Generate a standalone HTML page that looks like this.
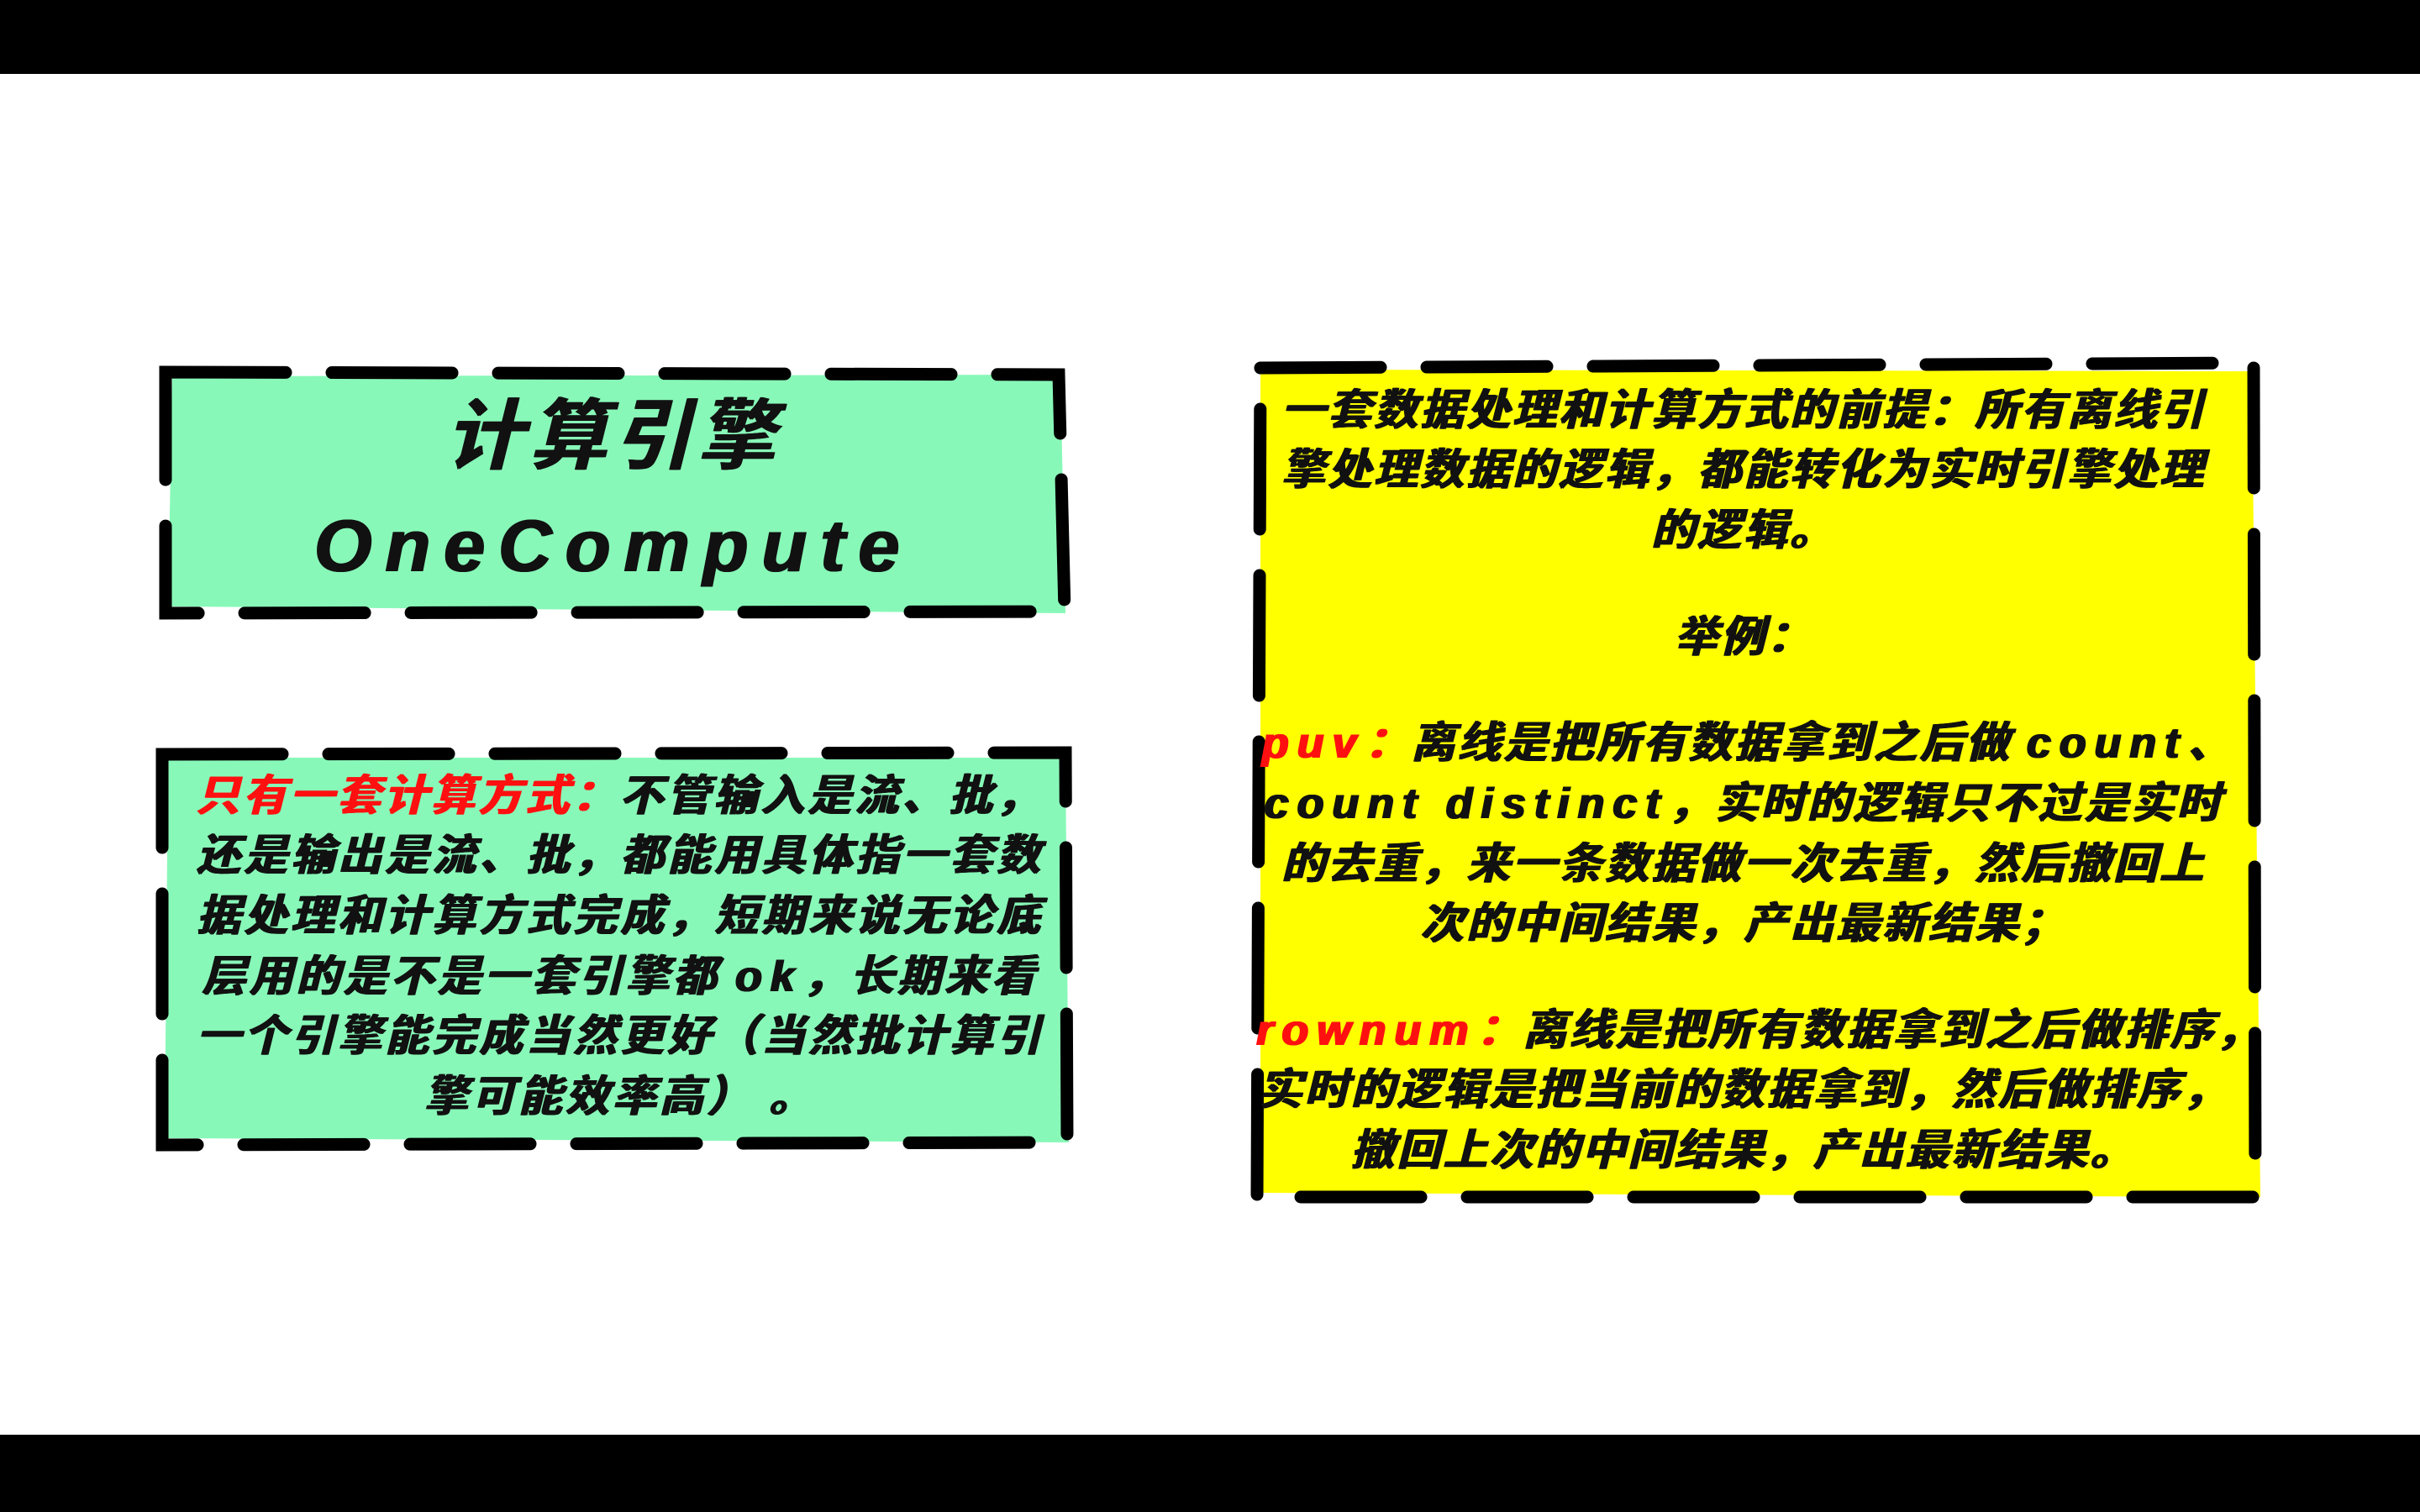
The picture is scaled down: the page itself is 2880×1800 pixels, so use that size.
<!DOCTYPE html>
<html><head><meta charset="utf-8"><style>
html,body{margin:0;padding:0;}
body{width:2880px;height:1800px;background:#fff;position:relative;overflow:hidden;font-family:"Liberation Sans","Noto Sans CJK SC",sans-serif;font-weight:bold;font-style:italic;color:#111;}
.bar{position:absolute;left:0;width:2880px;background:#000;}
.l{position:absolute;white-space:nowrap;text-align:center;font-size:52px;line-height:72px;height:72px;letter-spacing:4px;text-shadow:1.5px 0 0 currentColor,-1px 0 0 currentColor;}
.y{letter-spacing:3px;}
.r{color:#ff1010;}
.e{letter-spacing:10px;}
svg{position:absolute;left:0;top:0;}
</style></head><body>
<div class="bar" style="top:0;height:88px"></div>
<div class="bar" style="top:1708px;height:92px"></div>
<svg width="2880" height="1800">
<polygon points="205,448 1262,446 1268,730 200,722" fill="#88f8b8"/>
<polygon points="200,902 1268,902 1272,1360 196,1355" fill="#88f8b8"/>
<polygon points="1500,440 2680,442 2690,1425 1500,1420" fill="#ffff00"/>
<g fill="none" stroke="#000" stroke-width="15" stroke-dasharray="143 55" stroke-linecap="round">
<path d="M197,443 L1260,446 L1267,728 L197,730 Z"/>
<path d="M193,898 L1268,896 L1270,1360 L193,1363 Z"/>
<path d="M1500,438 L2682,432 L2684,1425 L1496,1425 Z"/>
</g>
</svg>
<div class="l" style="left:193px;width:1074px;top:470px;font-size:92px;line-height:100px;height:100px;letter-spacing:8px">计算引擎</div>
<div class="l" style="left:193px;width:1074px;top:600px;font-size:88px;line-height:100px;height:100px;letter-spacing:16px">OneCompute</div>

<div class="l" style="left:233px;width:1010px;top:912px;text-align:left"><span class="r">只有一套计算方式：</span>不管输入是流、批，</div>
<div class="l" style="left:220px;width:1036px;top:983px">还是输出是流、批，都能用具体指一套数</div>
<div class="l" style="left:220px;width:1036px;top:1055px">据处理和计算方式完成，短期来说无论底</div>
<div class="l" style="left:220px;width:1036px;top:1127px">层用的是不是一套引擎都 <span class="e">ok</span>，长期来看</div>
<div class="l" style="left:220px;width:1036px;top:1198px">一个引擎能完成当然更好（当然批计算引</div>
<div class="l" style="left:220px;width:1036px;top:1270px">擎可能效率高） 。</div>

<div class="l y" style="left:1500px;width:1150px;top:453px">一套数据处理和计算方式的前提：所有离线引</div>
<div class="l y" style="left:1500px;width:1150px;top:524px">擎处理数据的逻辑，都能转化为实时引擎处理</div>
<div class="l y" style="left:1500px;width:1150px;top:596px">的逻辑。</div>
<div class="l y" style="left:1500px;width:1150px;top:723px">举例：</div>
<div class="l y" style="left:1500px;width:1160px;top:849px"><span class="r e">puv</span><span class="r">：</span>离线是把所有数据拿到之后做 <span class="e">count</span>、</div>
<div class="l y" style="left:1500px;width:1150px;top:921px"><span class="e">count distinct</span>，实时的逻辑只不过是实时</div>
<div class="l y" style="left:1500px;width:1150px;top:993px">的去重，来一条数据做一次去重，然后撤回上</div>
<div class="l y" style="left:1500px;width:1150px;top:1064px">次的中间结果，产出最新结果；</div>
<div class="l y" style="left:1495px;width:1160px;top:1191px"><span class="r e">rownum</span><span class="r">：</span>离线是把所有数据拿到之后做排序，</div>
<div class="l y" style="left:1495px;width:1160px;top:1262px">实时的逻辑是把当前的数据拿到，然后做排序，</div>
<div class="l y" style="left:1500px;width:1150px;top:1334px">撤回上次的中间结果，产出最新结果。</div>
</body></html>
